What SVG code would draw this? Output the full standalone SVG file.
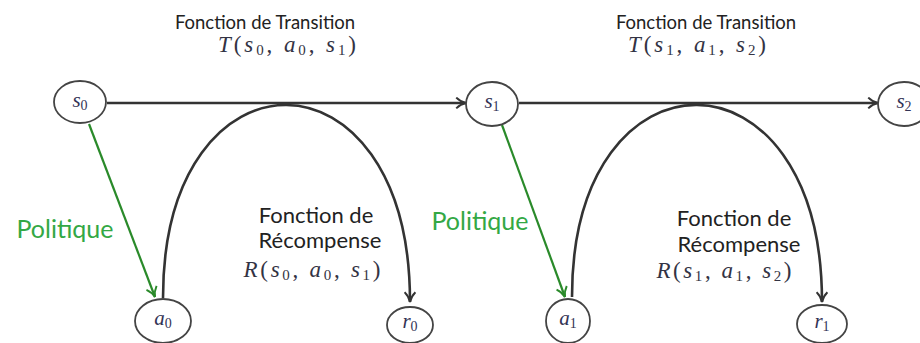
<svg xmlns="http://www.w3.org/2000/svg" width="920" height="343" viewBox="0 0 920 343">
<style>
.node ellipse{fill:#fff;stroke:#444;stroke-width:1.8}
.lbl{font-family:"Liberation Serif",serif;font-style:italic;font-size:21px;fill:#335;text-anchor:middle}
.sub{font-style:normal;font-size:14px}
.math{font-family:"Liberation Serif",serif;font-style:italic;font-size:23px;fill:#334;text-anchor:middle}
.msub{font-style:normal;font-size:15px}
.up{font-style:normal}
.title{font-family:Lato,"Liberation Sans",sans-serif;font-size:18.5px;fill:#222;text-anchor:middle}
.rec{font-family:Lato,"Liberation Sans",sans-serif;font-size:22px;fill:#222;text-anchor:middle}
.pol{font-family:Lato,"Liberation Sans",sans-serif;font-size:25px;fill:#33a844;text-anchor:middle}
.blk{fill:none;stroke:#333;stroke-width:2.6}
.grn{fill:none;stroke:#2a8a2a;stroke-width:2.2}
</style>
<defs>
<marker id="ab" viewBox="0 0 12 12" refX="11" refY="6" markerWidth="13" markerHeight="13" markerUnits="userSpaceOnUse" orient="auto">
<path d="M2,1 Q6,5 11,6 Q6,7 2,11" fill="none" stroke="#333" stroke-width="1.8"/>
</marker>
<marker id="ag" viewBox="0 0 12 12" refX="11" refY="6" markerWidth="13" markerHeight="13" markerUnits="userSpaceOnUse" orient="auto">
<path d="M2,1 Q6,5 11,6 Q6,7 2,11" fill="none" stroke="#2a8a2a" stroke-width="1.8"/>
</marker>
</defs>
<g id="connectors">
<line class="blk" x1="107" y1="103" x2="466" y2="103" marker-end="url(#ab)"/>
<line class="blk" x1="519" y1="103" x2="878" y2="103" marker-end="url(#ab)"/>
<path class="blk" d="M163,298 C163,40 410,40 410,302" marker-end="url(#ab)"/>
<path class="blk" d="M572,297 C572,40 822,40 822,302" marker-end="url(#ab)"/>
<line class="grn" x1="89" y1="124" x2="155" y2="297" marker-end="url(#ag)"/>
<line class="grn" x1="502" y1="125" x2="565" y2="297" marker-end="url(#ag)"/>
</g>
<g id="s0" class="node"><ellipse cx="80" cy="102" rx="26" ry="21"/><text class="lbl" x="80" y="107">s<tspan class="sub" dy="3">0</tspan></text></g>
<g id="s1" class="node"><ellipse cx="492" cy="104" rx="26" ry="22"/><text class="lbl" x="492" y="108">s<tspan class="sub" dy="3">1</tspan></text></g>
<g id="s2" class="node"><ellipse cx="904" cy="104" rx="26" ry="22"/><text class="lbl" x="904" y="108">s<tspan class="sub" dy="3">2</tspan></text></g>
<g id="a0" class="node"><ellipse cx="163" cy="321" rx="28" ry="22"/><text class="lbl" x="163" y="325">a<tspan class="sub" dy="3">0</tspan></text></g>
<g id="r0" class="node"><ellipse cx="410" cy="325" rx="23" ry="18"/><text class="lbl" x="410" y="328">r<tspan class="sub" dy="3">0</tspan></text></g>
<g id="a1" class="node"><ellipse cx="568" cy="321" rx="22" ry="22"/><text class="lbl" x="568" y="325">a<tspan class="sub" dy="3">1</tspan></text></g>
<g id="r1" class="node"><ellipse cx="822" cy="324" rx="25" ry="19"/><text class="lbl" x="822" y="328">r<tspan class="sub" dy="3">1</tspan></text></g>
<g id="labels">
<text class="title" x="265" y="29">Fonction de Transition</text>
<text class="math" x="287" y="52" textLength="138" lengthAdjust="spacing">T<tspan class="up">(</tspan>s<tspan class="msub" dy="3">0</tspan><tspan class="up" dy="-3">, </tspan>a<tspan class="msub" dy="3">0</tspan><tspan class="up" dy="-3">, </tspan>s<tspan class="msub" dy="3">1</tspan><tspan class="up" dy="-3">)</tspan></text>
<text class="title" x="706" y="29">Fonction de Transition</text>
<text class="math" x="697" y="52" textLength="138" lengthAdjust="spacing">T<tspan class="up">(</tspan>s<tspan class="msub" dy="3">1</tspan><tspan class="up" dy="-3">, </tspan>a<tspan class="msub" dy="3">1</tspan><tspan class="up" dy="-3">, </tspan>s<tspan class="msub" dy="3">2</tspan><tspan class="up" dy="-3">)</tspan></text>
<text class="pol" x="65" y="238">Politique</text>
<text class="pol" x="480" y="230">Politique</text>
<text class="rec" x="316" y="223">Fonction de</text>
<text class="rec" x="320" y="248">Récompense</text>
<text class="math" x="312" y="277" textLength="137" lengthAdjust="spacing">R<tspan class="up">(</tspan>s<tspan class="msub" dy="3">0</tspan><tspan class="up" dy="-3">, </tspan>a<tspan class="msub" dy="3">0</tspan><tspan class="up" dy="-3">, </tspan>s<tspan class="msub" dy="3">1</tspan><tspan class="up" dy="-3">)</tspan></text>
<text class="rec" x="734" y="226">Fonction de</text>
<text class="rec" x="739" y="252">Récompense</text>
<text class="math" x="724" y="278" textLength="135" lengthAdjust="spacing">R<tspan class="up">(</tspan>s<tspan class="msub" dy="3">1</tspan><tspan class="up" dy="-3">, </tspan>a<tspan class="msub" dy="3">1</tspan><tspan class="up" dy="-3">, </tspan>s<tspan class="msub" dy="3">2</tspan><tspan class="up" dy="-3">)</tspan></text>
</g>
</svg>
